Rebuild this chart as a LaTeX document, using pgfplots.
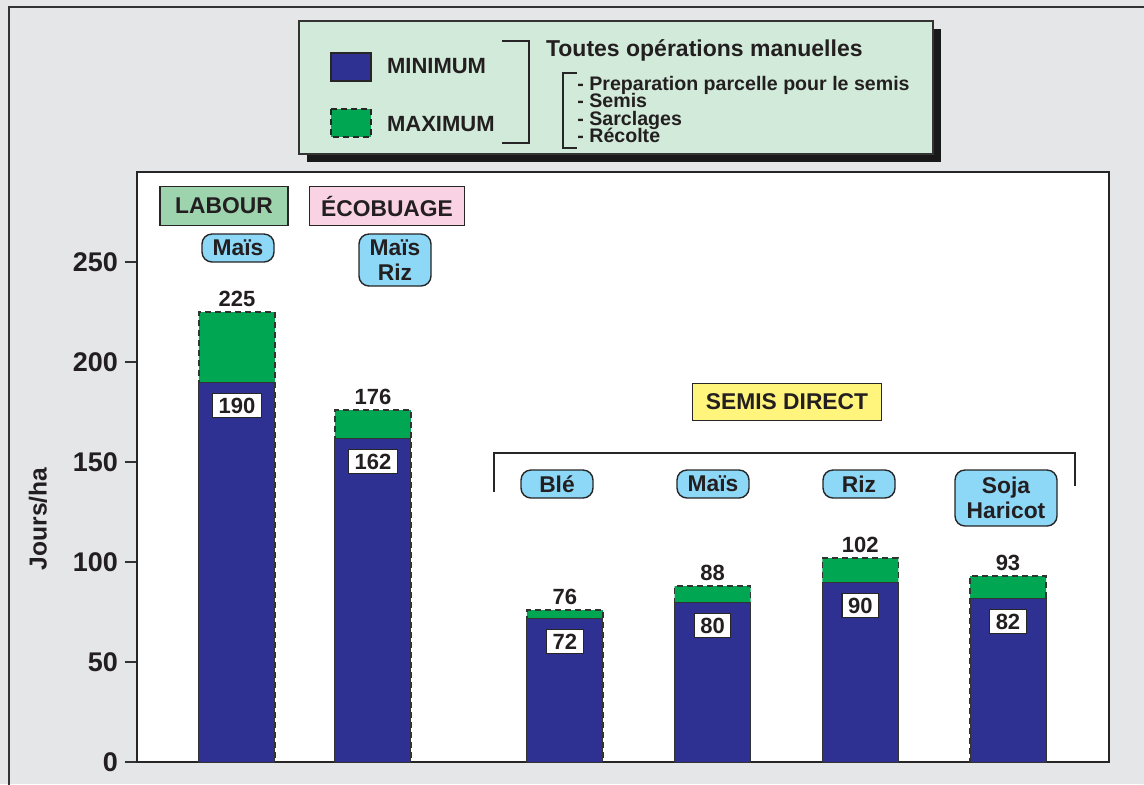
\documentclass[border=0pt]{standalone}
\usepackage{fontspec}
\setmainfont{Liberation Sans}
\usepackage{pgfplots}
\pgfplotsset{compat=1.18}
\usepackage{pgfplotstable}

\definecolor{bg}{HTML}{E5E6E8}
\definecolor{txt}{HTML}{231F20}
\definecolor{minblue}{HTML}{2E3192}
\definecolor{maxgreen}{HTML}{00A651}
\definecolor{legfill}{HTML}{D2EAD9}
\definecolor{labour}{HTML}{9DD4AE}
\definecolor{ecob}{HTML}{F9D3E3}
\definecolor{cult}{HTML}{8DD7F7}
\definecolor{semis}{HTML}{FFF47C}

\newcommand{\lab}{\bfseries\fontsize{11}{12.5}\selectfont}
\newcommand{\tagfont}{\bfseries\fontsize{11.4}{12.5}\selectfont}
\newcommand{\listfont}{\bfseries\fontsize{9.8}{9}\selectfont}

% x = position of the bar, min and max (Jours/ha)
\pgfplotstableread{
x     min max
0.779 190 225
1.700 162 176
3.000 72  76
4.000 80  88
5.000 90  102
6.000 82  93
}\data

\begin{document}
\begin{tikzpicture}
\begin{scope}[x=0.5pt,y=-0.5pt,
  item/.style={anchor=west, text=txt, font=\listfont, inner sep=0pt, text height=6.6pt, text depth=1.4pt}]
  \useasboundingbox (0,0) rectangle (1144,784);
  \fill[bg] (0,0) rectangle (1144,784);
  \draw[line width=1.2pt, black!80] (9,800) -- (9,7) -- (1160,7);
  % legend block
  \fill[black!90] (307,29) rectangle (941,162);
  \filldraw[fill=legfill, draw=black!80, line width=0.6pt] (299,21) rectangle (933,154);
  \filldraw[fill=minblue, draw=black!85, line width=0.8pt] (331,53) rectangle (371,81);
  \filldraw[fill=maxgreen, draw=black!85, line width=0.8pt, dash pattern=on 3pt off 2pt] (331,109) rectangle (371,137);
  \node[anchor=west, text=txt, font=\lab] at (380,66) {MINIMUM};
  \node[anchor=west, text=txt, font=\lab] at (380,124) {MAXIMUM};
  \draw[black!85, line width=0.6pt] (502,41) -- (529,41) -- (529,143) -- (502,143);
  \node[anchor=west, text=txt, font=\bfseries\fontsize{11.5}{12}\selectfont] at (539,50) {Toutes opérations manuelles};
  \draw[black!85, line width=0.6pt] (577,73) -- (563,73) -- (563,148) -- (577,148);
  \node[item] at (577,85) {- Preparation parcelle pour le semis};
  \node[item] at (577,102) {- Semis};
  \node[item] at (577,120) {- Sarclages};
  \node[item] at (577,137) {- Récolte};
  \node[rotate=90, text=txt, font=\bfseries\fontsize{12.3}{13}\selectfont] at (38,519) {Jours/ha};
\end{scope}

\begin{axis}[
  at={(68.5pt,-381pt)}, anchor=south west,
  scale only axis, width=486pt, height=295pt,
  xmin=0.102, xmax=6.684, ymin=0, ymax=295,
  axis background/.style={fill=white},
  axis line style={black!85, line width=0.7pt},
  ybar, bar width=38pt, bar shift=0pt,
  xtick=\empty,
  ytick={0,50,...,250}, ytick pos=left,
  tick align=outside, major tick length=6pt,
  ytick style={black!80, line width=0.7pt},
  yticklabel style={font=\bfseries\fontsize{13.5}{14}\selectfont, text=txt},
  /pgf/number format/assume math mode=true,
  nodes near coords,
  clip=false,
]
% maximum: full bar, dashed outline
\addplot[fill=maxgreen, draw=black!80, line width=0.6pt, dash pattern=on 3pt off 2pt,
  every node near coord/.append style={anchor=south, yshift=2.5pt, inner sep=0pt,
    text=txt, font=\lab}]
  table[x=x, y=max] {\data};
% minimum: drawn over the maximum bar
\addplot[fill=minblue, draw=black!80, line width=0.5pt,
  every node near coord/.append style={anchor=north, yshift=-5.5pt, draw=black!85, solid,
    fill=white, line width=0.6pt, text=txt, font=\lab, inner xsep=3pt, inner ysep=2pt,
    text height=8pt, text depth=0pt}]
  table[x=x, y=min] {\data};
\end{axis}

\begin{scope}[x=0.5pt,y=-0.5pt,
  tag/.style={draw=black!85, line width=0.7pt, text=txt, font=\tagfont, inner sep=0pt},
  crop/.style={tag, fill=cult, rounded corners=5pt, minimum width=36pt, minimum height=14pt, align=center}]
  \node[tag, fill=labour, minimum width=64pt, minimum height=19.5pt] at (224,206) {LABOUR};
  \node[tag, fill=ecob, minimum width=77.5pt, minimum height=19.5pt] at (387,206) {ÉCOBUAGE};
  \node[crop] at (238,248) {Maïs};
  \node[crop, minimum height=26pt] at (395,260) {Maïs\\Riz};
  \node[tag, fill=semis, minimum width=94.5pt, minimum height=18.5pt] at (787,402) {SEMIS DIRECT};
  \draw[black!85, line width=1.2pt] (494,492) -- (494,453) -- (1075,453) -- (1075,486);
  \node[crop] at (557,484) {Blé};
  \node[crop] at (713,484) {Maïs};
  \node[crop] at (859,484) {Riz};
  \node[crop, minimum width=51pt, minimum height=28pt] at (1006,498) {Soja\\Haricot};
\end{scope}
\end{tikzpicture}
\end{document}
